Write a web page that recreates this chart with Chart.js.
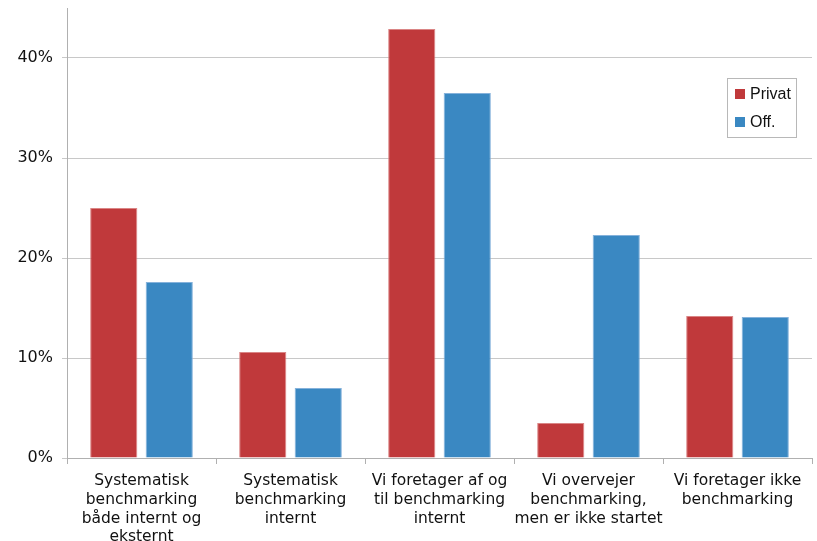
<!DOCTYPE html>
<html>
<head>
<meta charset="utf-8">
<script src="https://cdn.jsdelivr.net/npm/chart.js@4/dist/chart.umd.min.js"></script>
<style>
  html, body { margin: 0; padding: 0; background: #fff; }
  #wrap { width: 817px; height: 541px; }
</style>
</head>
<body>
<div id="wrap"><canvas id="c" width="817" height="541"></canvas></div>
<script>
// Answer categories (multi-line labels)
const categories = [
  ["Systematisk", "benchmarking", "både internt og", "eksternt"],
  ["Systematisk", "benchmarking", "internt"],
  ["Vi foretager af og", "til benchmarking", "internt"],
  ["Vi overvejer", "benchmarking,", "men er ikke startet"],
  ["Vi foretager ikke", "benchmarking"]
];
const seriesNames = ["Privat", "Off."];
// Share of respondents (fractions)
const privat = [0.250, 0.106, 0.429, 0.035, 0.142];
const offentlig = [0.176, 0.070, 0.365, 0.223, 0.141];
const yTicks = [0, 0.1, 0.2, 0.3, 0.4];

const RED = '#c0393b';
const BLUE = '#3a88c2';

// Legend drawn inside the plot area, top right
const boxLegend = {
  id: 'boxLegend',
  afterDraw(chart) {
    const ctx = chart.ctx;
    const x = 727, y = 78, w = 69, h = 59;
    ctx.save();
    ctx.fillStyle = '#fff';
    ctx.fillRect(x, y, w, h);
    ctx.strokeStyle = '#b8b8b8';
    ctx.lineWidth = 1;
    ctx.strokeRect(x + 0.5, y + 0.5, w, h);
    ctx.font = '16px "Liberation Sans", Arial, sans-serif';
    ctx.textBaseline = 'middle';
    chart.data.datasets.forEach((ds, i) => {
      const cy = y + 16 + i * 28;
      ctx.fillStyle = ds.backgroundColor;
      ctx.fillRect(x + 8, cy - 5, 10, 10);
      ctx.fillStyle = '#111';
      ctx.fillText(ds.label, x + 23, cy + 1);
    });
    ctx.restore();
  }
};

new Chart(document.getElementById('c'), {
  type: 'bar',
  data: {
    labels: categories,
    datasets: [
      { label: seriesNames[0], data: privat, backgroundColor: RED,
        borderColor: 'rgba(214,120,120,0.9)', borderWidth: 1 },
      { label: seriesNames[1], data: offentlig, backgroundColor: BLUE,
        borderColor: 'rgba(120,170,215,0.9)', borderWidth: 1 }
    ]
  },
  options: {
    responsive: false,
    animation: false,
    layout: { padding: { top: 8, right: 5, left: 0, bottom: 0 } },
    datasets: { bar: { categoryPercentage: 0.745, barPercentage: 0.85 } },
    plugins: { legend: { display: false }, tooltip: { enabled: false } },
    scales: {
      x: {
        grid: { offset: true, drawOnChartArea: false, color: '#b0b0b0', tickLength: 6 },
        border: { color: '#b0b0b0' },
        ticks: {
          color: '#111', maxRotation: 0, autoSkip: false, padding: 8,
          font: { family: '"DejaVu Sans", Verdana, sans-serif', size: 15.5, lineHeight: 1.2 }
        },
        afterFit(scale) { scale.height = 83; scale.paddingLeft = 0; scale.paddingRight = 0; }
      },
      y: {
        min: 0, max: 0.45,
        afterBuildTicks(scale) { scale.ticks = yTicks.map(v => ({ value: v })); },
        grid: { color: '#c8c8c8', tickLength: 5 },
        border: { color: '#b0b0b0' },
        ticks: {
          color: '#111', padding: 9,
          font: { family: '"DejaVu Sans", Verdana, sans-serif', size: 16 },
          callback: v => Math.round(v * 100) + '%'
        },
        afterFit(scale) { scale.width = 67; scale.paddingTop = 0; scale.paddingBottom = 0; }
      }
    }
  },
  plugins: [boxLegend]
});
</script>
</body>
</html>
